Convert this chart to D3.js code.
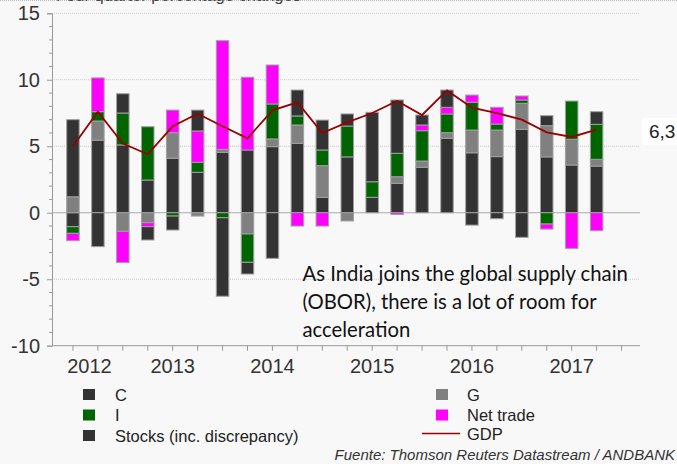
<!DOCTYPE html>
<html>
<head>
<meta charset="utf-8">
<script src="https://cdn.jsdelivr.net/npm/d3@7"></script>
<style>
  body { margin: 0; background: #f8f8f8; }
  svg { display: block; font-family: "Liberation Sans", Arial, sans-serif; }
</style>
</head>
<body>
<div id="chart"></div>
<script>
// India GDP - contributions to growth, four quarter % changes

// Data
var quarters = ["2012Q1","2012Q2","2012Q3","2012Q4","2013Q1","2013Q2","2013Q3","2013Q4",
                "2014Q1","2014Q2","2014Q3","2014Q4","2015Q1","2015Q2","2015Q3","2015Q4",
                "2016Q1","2016Q2","2016Q3","2016Q4","2017Q1","2017Q2"];
var cons   = [-1.05, 5.46, 5.1, 2.46, 4.1, 3.04, 4.54, 4.72, 4.97, 5.22, 1.16, 4.2, 1.16, 2.21, 3.42, 5.6, 4.51, 4.22, 6.27, 4.2, 3.59, 3.51];
var gov    = [1.2, 1.44, -1.4, -0.75, 1.92, -0.25, 0.23, -1.6, 0.58, 1.38, 2.38, -0.62, 0, 0.5, 0.47, 0.42, 1.71, 2.0, 1.96, 2.35, 1.93, 0.51];
var inv    = [-0.5, 0.7, 2.4, 4.01, -0.25, 0.75, -0.38, -2.13, 2.63, 0.68, 1.18, 2.32, 1.17, 1.76, 2.28, 1.41, 2.09, 0.45, 0.25, -0.85, 2.88, 2.63];
var netTrade = [-0.55, 2.54, -2.35, -0.3, 1.7, 2.36, 8.17, 5.47, 2.93, -1.0, -1.0, 0, 0, -0.13, 0.43, 0.5, 0.54, 1.26, 0.3, -0.38, -2.68, -1.35];
var stocks = [5.8, -2.55, 1.45, -1.0, -1.05, 1.57, -5.9, -0.88, -3.43, 1.95, 2.25, 0.91, 5.22, 4.01, 0.75, 1.3, -0.93, -0.45, -1.85, 0.75, 0, 0.95];
var gdp    = [5.0, 7.6, 5.2, 4.4, 6.5, 7.45, 6.5, 5.6, 7.7, 8.3, 6.0, 6.8, 7.5, 8.4, 7.35, 9.2, 7.9, 7.5, 7.0, 6.05, 5.7, 6.25];

var yTicks = [-10, -5, 0, 5, 10, 15];
var yearLabels = ["2012", "2013", "2014", "2015", "2016", "2017"];
var yearIndex = [0, 4, 8, 12, 16, 20];
var lastLabel = "6,3";

var keys = ["C", "G", "I", "Net trade", "Stocks"];
var colors = { "C": "#333333", "G": "#808080", "I": "#006400", "Net trade": "#ff00ff", "Stocks": "#333333" };

var table = quarters.map(function(q, i) {
  return { q: q, i: i, "C": cons[i], "G": gov[i], "I": inv[i], "Net trade": netTrade[i], "Stocks": stocks[i] };
});

var W = 677, H = 464;
var svg = d3.select("#chart").append("svg").attr("width", W).attr("height", H);

var x = d3.scaleLinear().domain([-0.84, 22.74]).range([52, 640]);
var y = d3.scaleLinear().domain([-10, 15]).range([345.7, 13.3]);
var barW = 12.5;

// cut-off title and dotted border at the top (as in the original)
svg.append("line").attr("x1", 0).attr("x2", W).attr("y1", 0.5).attr("y2", 0.5)
  .attr("stroke", "#bbb").attr("stroke-dasharray", "1,1");
svg.append("text").attr("x", 56).attr("y", 1).attr("font-size", 16.5).attr("fill", "#444")
  .text("Four quarter percentage changes");

// grid
svg.append("g").selectAll("line").data(yTicks.filter(function(d) { return d !== 0 && d !== -10; }))
  .enter().append("line")
  .attr("x1", 52).attr("x2", 640)
  .attr("y1", function(d) { return y(d); }).attr("y2", function(d) { return y(d); })
  .attr("stroke", "#c8c8c8").attr("stroke-dasharray", "1,1");

svg.append("line").attr("x1", 52).attr("x2", 640).attr("y1", y(0)).attr("y2", y(0))
  .attr("stroke", "#aaa").attr("stroke-width", 1);

// y axis
var yAxis = d3.axisLeft(y).tickValues(yTicks).tickSize(5).tickPadding(7).tickFormat(function(d) { return String(d); });
var gy = svg.append("g").attr("transform", "translate(52,0)").call(yAxis);
gy.selectAll(".tick line").attr("stroke", "#999");
gy.select(".domain").attr("stroke", "#999");
gy.selectAll("text").attr("font-size", 20).attr("fill", "#333").attr("font-family", "Liberation Sans, Arial");
svg.append("g").selectAll("line").data(d3.range(-10, 16).filter(function(d) { return d % 5 !== 0; }))
  .enter().append("line")
  .attr("x1", 49).attr("x2", 52)
  .attr("y1", function(d) { return y(d); }).attr("y2", function(d) { return y(d); })
  .attr("stroke", "#999");

// x axis
svg.append("line").attr("x1", 52).attr("x2", 640).attr("y1", y(-10)).attr("y2", y(-10)).attr("stroke", "#999");
svg.append("g").selectAll("line").data(d3.range(0, 23))
  .enter().append("line")
  .attr("x1", function(d) { return x(d); }).attr("x2", function(d) { return x(d); })
  .attr("y1", y(-10)).attr("y2", y(-10) + 5)
  .attr("stroke", "#999");
svg.append("g").selectAll("text").data(yearLabels)
  .enter().append("text")
  .attr("x", function(d, i) { return Math.max(x(yearIndex[i]), 89.5); })
  .attr("y", 373)
  .attr("text-anchor", "middle").attr("font-size", 20).attr("fill", "#333")
  .text(function(d) { return d; });

// stacked bars
var series = d3.stack().keys(keys).offset(d3.stackOffsetDiverging)(table);
svg.append("g").selectAll("g").data(series)
  .enter().append("g")
  .attr("fill", function(s) { return colors[s.key]; })
  .selectAll("rect").data(function(s) { return s.filter(function(d) { return d[1] !== d[0]; }); })
  .enter().append("rect")
  .attr("x", function(d) { return x(d.data.i) - barW / 2; })
  .attr("width", barW)
  .attr("y", function(d) { return y(Math.max(d[0], d[1])); })
  .attr("height", function(d) { return Math.abs(y(d[0]) - y(d[1])); })
  .attr("stroke", "#a0a0a0").attr("stroke-width", 1);

// GDP line
var line = d3.line().x(function(d, i) { return x(i); }).y(function(d) { return y(d); });
svg.append("path").datum(gdp).attr("d", line)
  .attr("fill", "none").attr("stroke", "#990000").attr("stroke-width", 1.8);

// last value label
svg.append("rect").attr("x", 642).attr("y", 118).attr("width", 35).attr("height", 27).attr("fill", "#fff");
svg.append("text").attr("x", 649).attr("y", 137.5).attr("font-size", 19).attr("fill", "#222").text(lastLabel);

// annotation
var note = ["As India joins the global supply chain", "(OBOR), there is a lot of room for", "acceleration"];
svg.append("g").selectAll("text").data(note)
  .enter().append("text")
  .attr("x", 302.5).attr("y", function(d, i) { return 281 + i * 28; })
  .attr("font-family", "Lato, 'Open Sans', sans-serif").attr("font-size", 20.3).attr("fill", "#111")
  .text(function(d) { return d; });

// legend
var legend = [
  { label: "C", type: "box", color: colors["C"], x: 83, y: 394.5 },
  { label: "I", type: "box", color: colors["I"], x: 83, y: 415 },
  { label: "Stocks (inc. discrepancy)", type: "box", color: colors["Stocks"], x: 83, y: 435.5 },
  { label: "G", type: "box", color: colors["G"], x: 436, y: 394.5 },
  { label: "Net trade", type: "box", color: colors["Net trade"], x: 436, y: 415 },
  { label: "GDP", type: "line", color: "#990000", x: 436, y: 433.5 }
];
var lg = svg.append("g").selectAll("g").data(legend).enter().append("g");
lg.filter(function(d) { return d.type === "box"; }).append("rect")
  .attr("x", function(d) { return d.x; }).attr("y", function(d) { return d.y - 5.5; })
  .attr("width", 12).attr("height", 11).attr("fill", function(d) { return d.color; });
lg.filter(function(d) { return d.type === "line"; }).append("line")
  .attr("x1", 422).attr("x2", 460).attr("y1", function(d) { return d.y; }).attr("y2", function(d) { return d.y; })
  .attr("stroke", function(d) { return d.color; }).attr("stroke-width", 1.5);
lg.append("text")
  .attr("x", function(d) { return d.x < 200 ? 115 : 467; })
  .attr("y", function(d) { return d.y + 6; })
  .attr("font-size", 16.5).attr("fill", "#222")
  .text(function(d) { return d.label; });

svg.append("text").attr("x", 675).attr("y", 460).attr("text-anchor", "end")
  .attr("font-size", 15).attr("font-style", "italic").attr("fill", "#333")
  .text("Fuente: Thomson Reuters Datastream / ANDBANK");
</script>
</body>
</html>
